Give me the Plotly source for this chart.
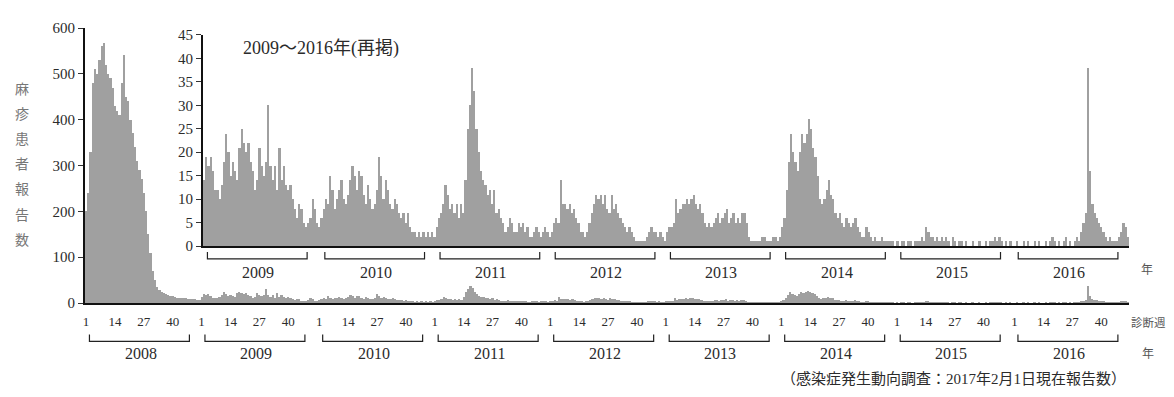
import plotly.graph_objects as go

# ---------------- data (weekly measles reports) ----------------
years = [2008, 2009, 2010, 2011, 2012, 2013, 2014, 2015, 2016]

w2008 = [200, 240, 330, 480, 510, 500, 530, 560, 567, 520, 500, 490, 470, 430, 420, 410,
         480, 542, 450, 440, 400, 370, 340, 310, 290, 270, 240, 200, 150, 110, 70, 50,
         35, 28, 25, 22, 20, 18, 16, 15, 14, 12, 12, 11, 10, 10, 9, 9, 8, 8, 7, 6]
w2009 = [14, 19, 17, 19, 16, 12, 12, 10, 13, 18, 24, 20, 15, 18, 16, 14, 21, 25, 22, 20,
         22, 18, 16, 12, 14, 21, 17, 15, 18, 30, 17, 14, 17, 12, 21, 14, 17, 13, 12, 13,
         10, 8, 6, 9, 8, 5, 4, 5, 6, 10, 8, 5, 4]
w2010 = [6, 8, 10, 9, 15, 12, 8, 10, 12, 14, 10, 9, 11, 14, 17, 15, 12, 16, 15, 11,
         9, 13, 10, 8, 9, 12, 19, 15, 10, 14, 12, 9, 8, 10, 9, 7, 6, 7, 5, 7,
         4, 3, 3, 2, 3, 2, 3, 2, 3, 2, 3, 2]
w2011 = [4, 6, 7, 9, 13, 11, 8, 9, 7, 9, 6, 9, 7, 14, 25, 30, 38, 33, 25, 20,
         16, 14, 13, 11, 12, 9, 12, 7, 8, 6, 5, 3, 4, 6, 5, 3, 3, 5, 4, 5,
         3, 4, 2, 2, 3, 4, 3, 2, 3, 4, 3, 2]
w2012 = [3, 5, 6, 5, 14, 9, 9, 8, 9, 7, 8, 6, 5, 3, 3, 2, 3, 5, 7, 9,
         11, 10, 11, 9, 11, 8, 7, 11, 8, 9, 7, 6, 5, 4, 3, 4, 3, 2, 1, 1,
         1, 1, 1, 2, 3, 4, 3, 3, 2, 3, 2, 1]
w2013 = [3, 4, 4, 5, 10, 7, 8, 9, 9, 10, 9, 10, 11, 9, 8, 9, 7, 5, 4, 5,
         4, 5, 6, 7, 5, 6, 7, 8, 5, 6, 7, 5, 6, 5, 7, 7, 5, 2, 1, 1,
         1, 1, 1, 2, 2, 1, 1, 1, 2, 2, 1, 2]
w2014 = [4, 6, 12, 18, 24, 20, 18, 16, 20, 24, 22, 24, 27, 25, 21, 19, 15, 10, 9, 10,
         12, 14, 11, 10, 7, 6, 7, 5, 4, 6, 5, 4, 5, 6, 4, 3, 2, 2, 4, 3,
         2, 1, 2, 1, 1, 2, 1, 1, 1, 1, 1, 0]
w2015 = [1, 0, 1, 1, 0, 1, 1, 0, 1, 1, 1, 2, 1, 4, 3, 2, 2, 1, 2, 1,
         2, 1, 2, 1, 0, 2, 1, 0, 1, 1, 0, 1, 0, 0, 1, 0, 0, 1, 0, 0,
         1, 0, 1, 1, 2, 1, 2, 1, 0, 1, 0, 1, 0]
w2016 = [0, 1, 0, 0, 1, 0, 1, 0, 0, 1, 0, 1, 0, 0, 1, 0, 1, 2, 1, 0,
         1, 0, 1, 2, 0, 1, 0, 1, 2, 1, 3, 5, 7, 38, 16, 9, 7, 6, 5, 4,
         3, 2, 1, 2, 1, 1, 1, 2, 3, 5, 4, 2]

series = [w2008, w2009, w2010, w2011, w2012, w2013, w2014, w2015, w2016]

week_ticks = [1, 14, 27, 40]
week_tick_text = ["1", "14", "27", "40"]

y_main_ticks = [0, 100, 200, 300, 400, 500, 600]
y_inset_ticks = [0, 5, 10, 15, 20, 25, 30, 35, 40, 45]

y_title_chars = ["麻", "疹", "患", "者", "報", "告", "数"]
inset_title = "2009〜2016年(再掲)"
source_text = "（感染症発生動向調査：2017年2月1日現在報告数）"

# ---------------- build index ----------------
x_idx, y_vals, year_start = [], [], {}
i = 0
for yr, arr in zip(years, series):
    year_start[yr] = i
    for v in arr:
        x_idx.append(i)
        y_vals.append(v)
        i += 1
n_weeks = i

main_tickvals, main_ticktext = [], []
for yr in years:
    for w, t in zip(week_ticks, week_tick_text):
        main_tickvals.append(year_start[yr] + w - 1)
        main_ticktext.append(t)

inset_start = year_start[2009]
x_in = [x for x in x_idx if x >= inset_start]
y_in = [v for x, v in zip(x_idx, y_vals) if x >= inset_start]

SERIF = "Liberation Serif, Noto Sans CJK JP, serif"
TXT = "#2b2b2b"
BAR = "#a0a0a0"

fig = go.Figure()
fig.add_trace(go.Bar(x=x_idx, y=y_vals, marker=dict(color=BAR, line=dict(width=0)),
                     xaxis="x", yaxis="y", showlegend=False, hoverinfo="skip"))
fig.add_trace(go.Bar(x=x_in, y=y_in, marker=dict(color=BAR, line=dict(width=0)),
                     xaxis="x2", yaxis="y2", showlegend=False, hoverinfo="skip"))

# page geometry: the page body adds an 8px margin around the figure
OFF = 8
PAGE_W, PAGE_H = 1174, 397
W, H = PAGE_W - 2 * OFF, PAGE_H - 2 * OFF
PLOT_L, PLOT_R, PLOT_T, PLOT_B = 85, 1129, 23, 303          # in page pixels
L, T = PLOT_L - OFF, PLOT_T - OFF
R, B = W - (PLOT_R - OFF), H - (PLOT_B - OFF)
PW, PH = PLOT_R - PLOT_L, PLOT_B - PLOT_T

def px_x(p):
    return (p - PLOT_L) / PW

def px_y(p):
    return (PLOT_B - p) / PH

fig.update_layout(
    width=W, height=H,
    margin=dict(l=L, r=R, t=T, b=B, pad=0),
    paper_bgcolor="white", plot_bgcolor="white",
    bargap=0,
    font=dict(family=SERIF, color=TXT, size=13),
    xaxis=dict(domain=[0, 1], range=[-0.5, n_weeks - 0.5], showgrid=False, zeroline=False,
               showline=True, linecolor="#111", linewidth=1.5,
               tickmode="array", tickvals=main_tickvals, ticktext=main_ticktext,
               ticks="", ticklabelstandoff=6, tickfont=dict(size=13, family=SERIF, color=TXT)),
    yaxis=dict(domain=[0, 1], range=[0, 600], showgrid=False, zeroline=False,
               showline=True, linecolor="#111", linewidth=2,
               tickmode="array", tickvals=y_main_ticks,
               ticks="outside", ticklen=5, tickcolor="#333",
               tickfont=dict(size=15, family=SERIF, color=TXT)),
    xaxis2=dict(domain=[px_x(203), 1], anchor="y2", range=[inset_start - 0.5, n_weeks - 0.5],
                showgrid=False, zeroline=False, showline=True, linecolor="#111", linewidth=1.5,
                showticklabels=False, ticks=""),
    yaxis2=dict(domain=[px_y(245), px_y(30)], anchor="x2", range=[0, 45],
                showgrid=False, zeroline=False, showline=True, linecolor="#111", linewidth=2,
                tickmode="array", tickvals=y_inset_ticks,
                ticks="outside", ticklen=5, tickcolor="#333",
                tickfont=dict(size=15, family=SERIF, color=TXT)),
)

shapes, annotations = [], []

def bracket(xref, x0, x1, ybot, ytop):
    return dict(type="path", xref=xref, yref="paper",
                path=f"M {x0},{ytop} L {x0},{ybot} L {x1},{ybot} L {x1},{ytop}",
                line=dict(color="#222", width=1.2))

def label(x, y, text, size, family=SERIF, color=TXT, xref="paper"):
    return dict(x=x, y=y, xref=xref, yref="paper", text=text, showarrow=False,
                xanchor="center", yanchor="middle",
                font=dict(size=size, family=family, color=color))

# main-axis year brackets and labels
for yr in years:
    s = year_start[yr]
    shapes.append(bracket("x", s + 1.5, s + 46.5, px_y(342), px_y(335)))
    annotations.append(label(s + 24.5, px_y(354), str(yr), 16, xref="x"))

# inset year brackets and labels
for yr in years[1:]:
    s = year_start[yr]
    shapes.append(bracket("x2", s + 1.5, s + 46.5, px_y(258), px_y(251)))
    annotations.append(label(s + 24.5, px_y(272), str(yr), 16, xref="x2"))

# vertical y-axis title
for k, ch in enumerate(y_title_chars):
    annotations.append(label(px_x(22), px_y(84 + k * 25.6), ch, 14,
                             family="Noto Sans CJK JP", color="#777"))

annotations += [
    label(px_x(321), px_y(44), inset_title, 18),
    label(px_x(1148), px_y(322), "診断週", 11.5, family="Noto Sans CJK JP", color="#555"),
    label(px_x(1148), px_y(353), "年", 12, family="Noto Sans CJK JP", color="#555"),
    label(px_x(1147), px_y(268), "年", 12, family="Noto Sans CJK JP", color="#555"),
    label(px_x(953), px_y(380), source_text, 15),
]

fig.update_layout(shapes=shapes, annotations=annotations)
fig.write_html("out.html")
